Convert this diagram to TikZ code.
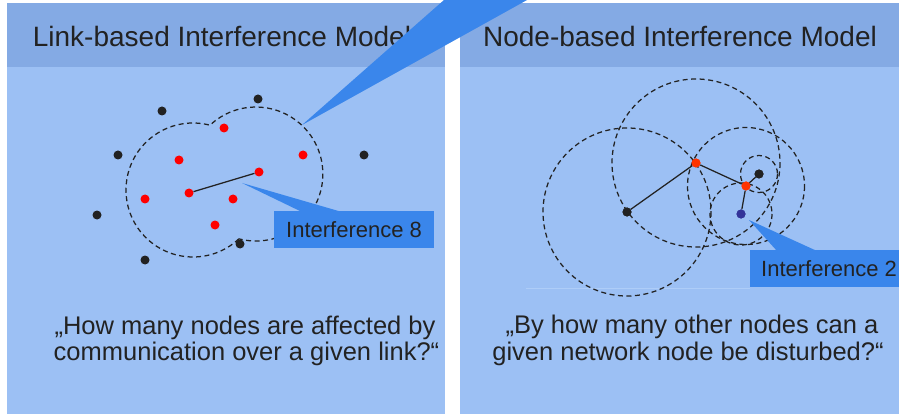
\documentclass[tikz,border=0pt]{standalone}
\usepackage{fontspec}
\setmainfont{Liberation Sans}
\definecolor{bodyc}{HTML}{9CC0F4}
\definecolor{headc}{HTML}{84AAE4}
\definecolor{callc}{HTML}{3A86EB}
\definecolor{txtc}{HTML}{222222}
\definecolor{redc}{HTML}{FF0000}
\definecolor{orc}{HTML}{FF3300}
\definecolor{bluec}{HTML}{333399}
\definecolor{faintc}{HTML}{AECDF8}
\begin{document}
\begin{tikzpicture}[x=1pt,y=-1pt,
  dotn/.style={circle,inner sep=0pt,minimum size=9pt,draw=none},
  bdot/.style={dotn,fill=txtc},
  rdot/.style={dotn,fill=redc},
  odot/.style={dotn,fill=orc},
  ndot/.style={dotn,fill=bluec},
  rangec/.style={draw=txtc,line width=1.25pt,dash pattern=on 5pt off 3.5pt},
  linkl/.style={draw=txtc,line width=1.25pt},
  titlet/.style={text=txtc,font=\fontsize{28}{33}\selectfont,inner sep=0pt},
  qtext/.style={text=txtc,font=\fontsize{25.5}{30}\selectfont,inner sep=0pt},
  callbox/.style={fill=callc,text=txtc,font=\fontsize{22}{26}\selectfont,inner ysep=0pt,minimum height=37pt,text depth=0pt},
  callout/.style={fill=callc}]
\useasboundingbox (0,0) rectangle (899,414);
\fill[white] (0,0) rectangle (899,414);
% panels
\fill[bodyc] (7,3) rectangle (445,414);
\fill[headc] (7,3) rectangle (445,67);
\fill[bodyc] (460,3) rectangle (899,414);
\fill[headc] (460,3) rectangle (899,67);
\node[titlet,anchor=base] (t1) at (222,47) {Link-based Interference Model};
\node[titlet,anchor=base] (t2) at (680,47) {Node-based Interference Model};
% ---- left panel
\draw[rangec] (193,190) ++(46.8:67) arc[start angle=46.8,end angle=284.7,radius=67]
  arc[start angle=-133.2,end angle=104.7,radius=67] -- cycle;
\node[bdot] (b1) at (162,111) {};
\node[bdot] (b2) at (258,99) {};
\node[bdot] (b3) at (118,155) {};
\node[bdot] (b4) at (364,155) {};
\node[bdot] (b5) at (97,215) {};
\node[bdot] (b6) at (145,260) {};
\node[bdot] (b7) at (240,244) {};
\node[rdot] (r1) at (224,128) {};
\node[rdot] (r2) at (179,160) {};
\node[rdot] (r3) at (303,155) {};
\node[rdot] (r4) at (259,172) {};
\node[rdot] (r5) at (189,193) {};
\node[rdot] (r6) at (145,199) {};
\node[rdot] (r7) at (233,199) {};
\node[rdot] (r8) at (215,225) {};
\draw[linkl] (r5) -- (r4);
\coordinate (tip8) at (242,183);
\fill[callout] (tip8) -- (342,212) -- (302,212) -- cycle;
\node[callbox,anchor=north west,inner xsep=12pt] (c8) at (274,211) {\makebox[136pt][l]{Interference 8}};
\node[qtext,anchor=base] (q1) at (245,334) {„How many nodes are affected by};
\node[qtext,anchor=base] (q2) at (246.5,360) {communication over a given link?“};
% ---- right panel
\draw[faintc,line width=0.8pt] (526,288) -- (750,288);
\node[bdot] (n1) at (627,212) {};
\node[odot] (n2) at (696,163) {};
\node[odot] (n3) at (746,186) {};
\node[bdot] (n4) at (759,174) {};
\node[ndot] (n5) at (741,214) {};
\draw[rangec] (n1) circle[radius=84];
\draw[rangec] (n2) circle[radius=84];
\draw[rangec] (n3) circle[radius=58.5];
\draw[rangec] (n4) circle[radius=18.5];
\draw[rangec] (n5) circle[radius=31];
\draw[linkl] (n1) -- (n2) -- (n3) -- (n4);
\draw[linkl] (n3) -- (n5);
\node[bdot] at (n1) {};
\node[odot] at (n2) {};
\node[odot] at (n3) {};
\node[bdot] at (n4) {};
\node[ndot] at (n5) {};
\coordinate (tip2) at (749,220);
\fill[callout] (tip2) -- (817,251) -- (777,251) -- cycle;
\node[callbox,anchor=north west,inner xsep=11pt] (c2) at (750,250) {\makebox[138pt][l]{Interference 2}};
\node[qtext,anchor=base] (q3) at (692,333) {„By how many other nodes can a};
\node[qtext,anchor=base] (q4) at (688,360) {given network node be disturbed?“};
% ---- big callout on top
\coordinate (tipb) at (302,125);
\fill[callout] (tipb) -- (444,0) -- (527,0) -- cycle;
\end{tikzpicture}
\end{document}
